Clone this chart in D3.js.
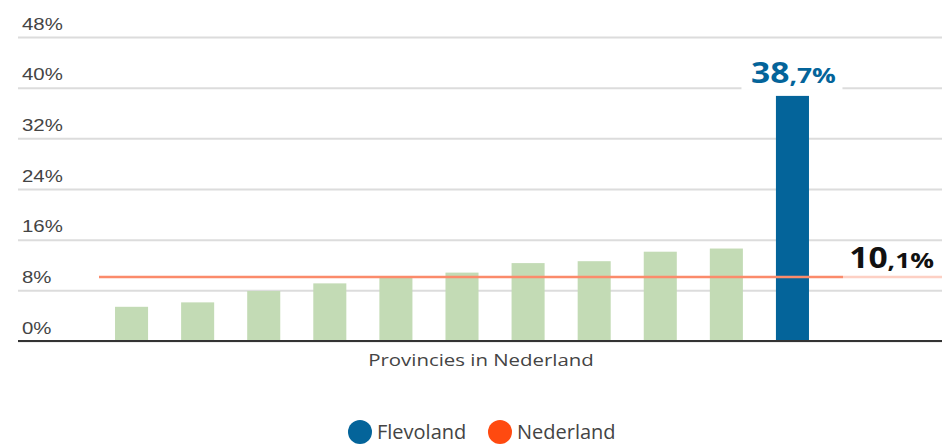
<!DOCTYPE html>
<html>
<head>
<meta charset="utf-8">
<script src="https://cdn.jsdelivr.net/npm/d3@7"></script>
<style>
  body { margin: 0; background: #fff; }
  svg { font-family: "Open Sans", "Noto Sans", sans-serif; }
</style>
</head>
<body>
<svg id="chart"></svg>
<script>
// data
const provinces = ["p1", "p2", "p3", "p4", "p5", "p6", "p7", "p8", "p9", "p10", "Flevoland"];
const values = [5.4, 6.1, 7.9, 9.1, 10.2, 10.8, 12.3, 12.6, 14.1, 14.6, 38.7];
const national = 10.1;
const yTicks = [0, 8, 16, 24, 32, 40, 48];
const legendItems = ["Flevoland", "Nederland"];

const width = 942, height = 446;
const colors = { green: "#c3dbb5", blue: "#04649a", line: "#fb8b6b", dotRed: "#ff4a10" };
const sx = 1.2; // text in the picture is a bit wide

const svg = d3.select("#chart").attr("width", width).attr("height", height);

const x = d3.scaleBand()
    .domain(provinces)
    .range([98.5, 825.5])
    .paddingInner(0.5)
    .paddingOuter(0.25);

const y = d3.scaleLinear()
    .domain([0, 48])
    .range([341, 37]);

// gridlines + tick labels
const yAxis = d3.axisLeft(y).tickValues(yTicks).tickSize(-(width - 18)).tickFormat(d => d + "%");
const yG = svg.append("g").attr("transform", "translate(18,0)").call(yAxis);
yG.select(".domain").remove();
yG.selectAll(".tick line").attr("stroke", "#dcdcdc").attr("stroke-width", 2);
yG.selectAll(".tick text")
    .attr("x", 0).attr("dy", null)
    .attr("transform", `translate(4,-8) scale(${sx},1)`)
    .attr("text-anchor", "start")
    .style("font-size", "17px").attr("fill", "#444");

// bars
svg.append("g").selectAll("rect")
  .data(provinces)
  .join("rect")
    .attr("x", d => x(d))
    .attr("width", x.bandwidth())
    .attr("y", (d, i) => y(values[i]))
    .attr("height", (d, i) => y(0) - y(values[i]))
    .attr("fill", d => d === "Flevoland" ? colors.blue : colors.green);

// baseline
svg.append("line")
    .attr("x1", 18).attr("x2", width)
    .attr("y1", y(0)).attr("y2", y(0))
    .attr("stroke", "#333").attr("stroke-width", 2);

// national average line
svg.append("line")
    .attr("x1", 99).attr("x2", width)
    .attr("y1", y(national)).attr("y2", y(national))
    .attr("stroke", colors.line).attr("stroke-width", 2.5);

function bigLabel(v, px, py, anchor, fill) {
  const p = d3.format(".1f")(v).split(".");
  const t = svg.append("text")
      .attr("transform", `translate(${px},${py}) scale(${sx},1)`)
      .attr("text-anchor", anchor)
      .attr("fill", fill).attr("font-weight", "bold");
  t.append("tspan").style("font-size", "28px").text(p[0]);
  t.append("tspan").style("font-size", "22px").text("," + p[1] + "%");
}

// label for Flevoland
const fx = x("Flevoland") + x.bandwidth() / 2;
const flevo = values[provinces.indexOf("Flevoland")];
svg.append("rect")
    .attr("x", fx - 51).attr("y", y(flevo) - 36)
    .attr("width", 101).attr("height", 30)
    .attr("fill", "#fff");
bigLabel(flevo, fx + 1, y(flevo) - 13, "middle", colors.blue);

// label for Nederland
svg.append("rect")
    .attr("x", 843).attr("y", y(national) - 32)
    .attr("width", 99).attr("height", 36)
    .attr("fill", "#fff").attr("opacity", 0.6);
bigLabel(national, 934, y(national) - 9, "end", "#111");

// x axis title
svg.append("text")
    .attr("transform", `translate(481,366) scale(${sx},1)`)
    .attr("text-anchor", "middle")
    .style("font-size", "17px").attr("fill", "#444")
    .text("Provincies in Nederland");

// legend
const legend = svg.append("g").selectAll("g")
  .data(legendItems)
  .join("g")
    .attr("transform", (d, i) => `translate(${[360, 500][i]},432)`);
legend.append("circle").attr("r", 12)
    .attr("fill", (d, i) => i === 0 ? colors.blue : colors.dotRed);
legend.append("text")
    .attr("x", 17).attr("dy", "0.36em")
    .style("font-size", "20px").attr("fill", "#444")
    .text(d => d);
</script>
</body>
</html>
